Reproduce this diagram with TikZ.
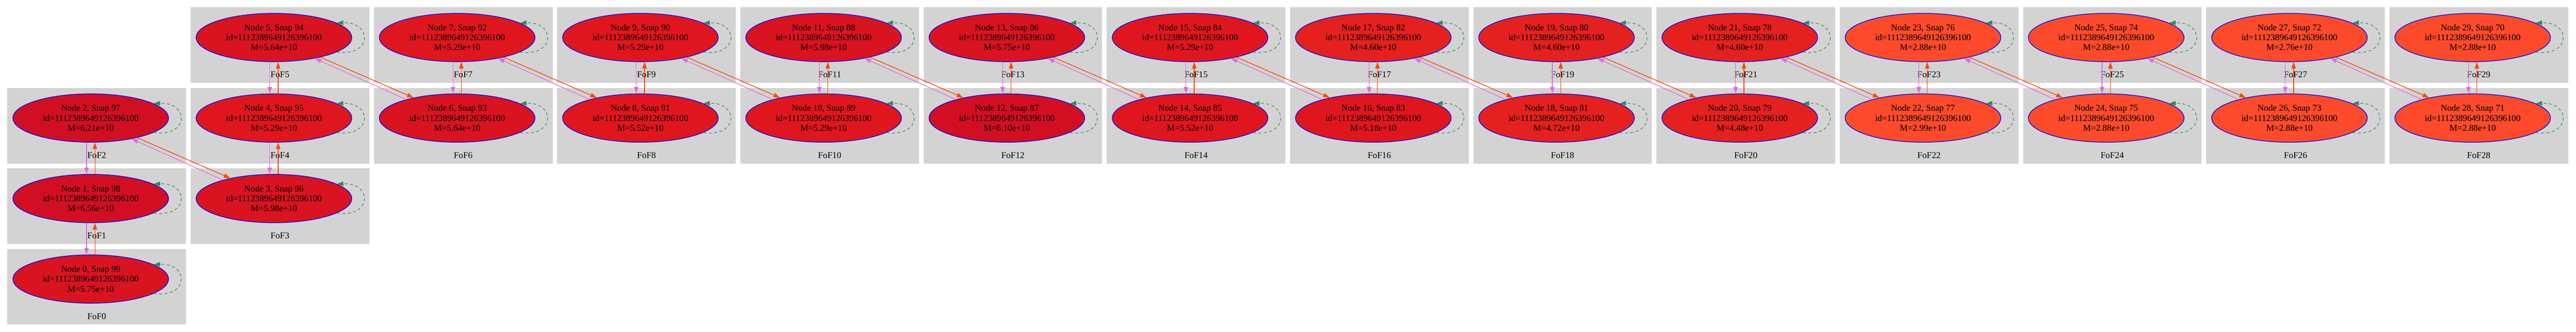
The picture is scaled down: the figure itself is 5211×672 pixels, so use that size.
\documentclass[tikz,border=0pt]{standalone}
\usepackage{fontspec}
\setmainfont{Liberation Serif}
\usetikzlibrary{arrows.meta,shapes.geometric}
\definecolor{fofgray}{HTML}{D3D3D3}
\definecolor{haloblue}{HTML}{0000FF}
\definecolor{progviolet}{HTML}{DA70D6}
\definecolor{descorange}{HTML}{FF4500}
\definecolor{loopgreen}{HTML}{2E8B57}
\definecolor{massA}{HTML}{D20F22}
\definecolor{massB}{HTML}{D91320}
\definecolor{massC}{HTML}{E0161E}
\definecolor{massD}{HTML}{E4211E}
\definecolor{massE}{HTML}{FC4A2B}

\begin{document}
\begin{tikzpicture}[x=1pt,y=1pt,
  fof/.style={rectangle,fill=fofgray,inner sep=0pt,minimum width=361.5pt,minimum height=153pt},
  fofname/.style={anchor=base,yshift=11pt,font=\fontsize{18}{20}\selectfont},
  halo/.style={ellipse,draw=haloblue,line width=1.3pt,inner sep=0pt,minimum width=315pt,minimum height=98pt,align=center,font=\fontsize{18}{20}\selectfont},
  prog/.style={draw=progviolet,line width=1.3pt,-{Triangle[length=13pt,width=9pt]}},
  desc/.style={draw=descorange,line width=1.4pt,-{Triangle[length=13pt,width=9pt]}},
  selfloop/.style={draw=loopgreen,line width=1.2pt,dash pattern=on 6pt off 5pt,-{Triangle[length=13pt,width=9pt]}}]
  \useasboundingbox (0,0) rectangle (5211,672);
  % FoF groups
  \node[fof,label={[fofname]south:FoF0}] (F0) at (195.75,91.5) {};
  \node[fof,label={[fofname]south:FoF1}] (F1) at (195.75,254.5) {};
  \node[fof,label={[fofname]south:FoF2}] (F2) at (195.75,417.5) {};
  \node[fof,label={[fofname]south:FoF3}] (F3) at (566.40,254.5) {};
  \node[fof,label={[fofname]south:FoF4}] (F4) at (566.40,417.5) {};
  \node[fof,label={[fofname]south:FoF5}] (F5) at (566.40,580.5) {};
  \node[fof,label={[fofname]south:FoF6}] (F6) at (937.05,417.5) {};
  \node[fof,label={[fofname]south:FoF7}] (F7) at (937.05,580.5) {};
  \node[fof,label={[fofname]south:FoF8}] (F8) at (1307.70,417.5) {};
  \node[fof,label={[fofname]south:FoF9}] (F9) at (1307.70,580.5) {};
  \node[fof,label={[fofname]south:FoF10}] (F10) at (1678.35,417.5) {};
  \node[fof,label={[fofname]south:FoF11}] (F11) at (1678.35,580.5) {};
  \node[fof,label={[fofname]south:FoF12}] (F12) at (2049.00,417.5) {};
  \node[fof,label={[fofname]south:FoF13}] (F13) at (2049.00,580.5) {};
  \node[fof,label={[fofname]south:FoF14}] (F14) at (2419.65,417.5) {};
  \node[fof,label={[fofname]south:FoF15}] (F15) at (2419.65,580.5) {};
  \node[fof,label={[fofname]south:FoF16}] (F16) at (2790.30,417.5) {};
  \node[fof,label={[fofname]south:FoF17}] (F17) at (2790.30,580.5) {};
  \node[fof,label={[fofname]south:FoF18}] (F18) at (3160.95,417.5) {};
  \node[fof,label={[fofname]south:FoF19}] (F19) at (3160.95,580.5) {};
  \node[fof,label={[fofname]south:FoF20}] (F20) at (3531.60,417.5) {};
  \node[fof,label={[fofname]south:FoF21}] (F21) at (3531.60,580.5) {};
  \node[fof,label={[fofname]south:FoF22}] (F22) at (3902.25,417.5) {};
  \node[fof,label={[fofname]south:FoF23}] (F23) at (3902.25,580.5) {};
  \node[fof,label={[fofname]south:FoF24}] (F24) at (4272.90,417.5) {};
  \node[fof,label={[fofname]south:FoF25}] (F25) at (4272.90,580.5) {};
  \node[fof,label={[fofname]south:FoF26}] (F26) at (4643.55,417.5) {};
  \node[fof,label={[fofname]south:FoF27}] (F27) at (4643.55,580.5) {};
  \node[fof,label={[fofname]south:FoF28}] (F28) at (5014.20,417.5) {};
  \node[fof,label={[fofname]south:FoF29}] (F29) at (5014.20,580.5) {};
  % halos
  \node[halo,fill=massB] (n0) at (183.50,107) {Node 0, Snap 99\\id=1112389649126396100\\M=5.75e+10};
  \node[halo,fill=massA] (n1) at (183.50,270) {Node 1, Snap 98\\id=1112389649126396100\\M=6.56e+10};
  \node[halo,fill=massA] (n2) at (183.50,433) {Node 2, Snap 97\\id=1112389649126396100\\M=6.21e+10};
  \node[halo,fill=massB] (n3) at (554.15,270) {Node 3, Snap 96\\id=1112389649126396100\\M=5.98e+10};
  \node[halo,fill=massC] (n4) at (554.15,433) {Node 4, Snap 95\\id=1112389649126396100\\M=5.29e+10};
  \node[halo,fill=massB] (n5) at (554.15,596) {Node 5, Snap 94\\id=1112389649126396100\\M=5.64e+10};
  \node[halo,fill=massB] (n6) at (924.80,433) {Node 6, Snap 93\\id=1112389649126396100\\M=5.64e+10};
  \node[halo,fill=massC] (n7) at (924.80,596) {Node 7, Snap 92\\id=1112389649126396100\\M=5.29e+10};
  \node[halo,fill=massC] (n8) at (1295.45,433) {Node 8, Snap 91\\id=1112389649126396100\\M=5.52e+10};
  \node[halo,fill=massC] (n9) at (1295.45,596) {Node 9, Snap 90\\id=1112389649126396100\\M=5.29e+10};
  \node[halo,fill=massC] (n10) at (1666.10,433) {Node 10, Snap 89\\id=1112389649126396100\\M=5.29e+10};
  \node[halo,fill=massB] (n11) at (1666.10,596) {Node 11, Snap 88\\id=1112389649126396100\\M=5.98e+10};
  \node[halo,fill=massA] (n12) at (2036.75,433) {Node 12, Snap 87\\id=1112389649126396100\\M=6.10e+10};
  \node[halo,fill=massB] (n13) at (2036.75,596) {Node 13, Snap 86\\id=1112389649126396100\\M=5.75e+10};
  \node[halo,fill=massC] (n14) at (2407.40,433) {Node 14, Snap 85\\id=1112389649126396100\\M=5.52e+10};
  \node[halo,fill=massC] (n15) at (2407.40,596) {Node 15, Snap 84\\id=1112389649126396100\\M=5.29e+10};
  \node[halo,fill=massC] (n16) at (2778.05,433) {Node 16, Snap 83\\id=1112389649126396100\\M=5.18e+10};
  \node[halo,fill=massD] (n17) at (2778.05,596) {Node 17, Snap 82\\id=1112389649126396100\\M=4.60e+10};
  \node[halo,fill=massD] (n18) at (3148.70,433) {Node 18, Snap 81\\id=1112389649126396100\\M=4.72e+10};
  \node[halo,fill=massD] (n19) at (3148.70,596) {Node 19, Snap 80\\id=1112389649126396100\\M=4.60e+10};
  \node[halo,fill=massD] (n20) at (3519.35,433) {Node 20, Snap 79\\id=1112389649126396100\\M=4.48e+10};
  \node[halo,fill=massD] (n21) at (3519.35,596) {Node 21, Snap 78\\id=1112389649126396100\\M=4.60e+10};
  \node[halo,fill=massE] (n22) at (3890.00,433) {Node 22, Snap 77\\id=1112389649126396100\\M=2.99e+10};
  \node[halo,fill=massE] (n23) at (3890.00,596) {Node 23, Snap 76\\id=1112389649126396100\\M=2.88e+10};
  \node[halo,fill=massE] (n24) at (4260.65,433) {Node 24, Snap 75\\id=1112389649126396100\\M=2.88e+10};
  \node[halo,fill=massE] (n25) at (4260.65,596) {Node 25, Snap 74\\id=1112389649126396100\\M=2.88e+10};
  \node[halo,fill=massE] (n26) at (4631.30,433) {Node 26, Snap 73\\id=1112389649126396100\\M=2.88e+10};
  \node[halo,fill=massE] (n27) at (4631.30,596) {Node 27, Snap 72\\id=1112389649126396100\\M=2.76e+10};
  \node[halo,fill=massE] (n28) at (5001.95,433) {Node 28, Snap 71\\id=1112389649126396100\\M=2.88e+10};
  \node[halo,fill=massE] (n29) at (5001.95,596) {Node 29, Snap 70\\id=1112389649126396100\\M=2.88e+10};
  % links inside a column
  \draw[prog] ([xshift=-8.5pt]n1.south) -- ([xshift=-8.5pt]n0.north);
  \draw[desc] ([xshift=8.5pt]n0.north) -- ([xshift=8.5pt]n1.south);
  \draw[prog] ([xshift=-8.5pt]n2.south) -- ([xshift=-8.5pt]n1.north);
  \draw[desc] ([xshift=8.5pt]n1.north) -- ([xshift=8.5pt]n2.south);
  \draw[prog] ([xshift=-8.5pt]n4.south) -- ([xshift=-8.5pt]n3.north);
  \draw[desc] ([xshift=8.5pt]n3.north) -- ([xshift=8.5pt]n4.south);
  \draw[prog] ([xshift=-8.5pt]n5.south) -- ([xshift=-8.5pt]n4.north);
  \draw[desc] ([xshift=8.5pt]n4.north) -- ([xshift=8.5pt]n5.south);
  \draw[prog] ([xshift=-8.5pt]n7.south) -- ([xshift=-8.5pt]n6.north);
  \draw[desc] ([xshift=8.5pt]n6.north) -- ([xshift=8.5pt]n7.south);
  \draw[prog] ([xshift=-8.5pt]n9.south) -- ([xshift=-8.5pt]n8.north);
  \draw[desc] ([xshift=8.5pt]n8.north) -- ([xshift=8.5pt]n9.south);
  \draw[prog] ([xshift=-8.5pt]n11.south) -- ([xshift=-8.5pt]n10.north);
  \draw[desc] ([xshift=8.5pt]n10.north) -- ([xshift=8.5pt]n11.south);
  \draw[prog] ([xshift=-8.5pt]n13.south) -- ([xshift=-8.5pt]n12.north);
  \draw[desc] ([xshift=8.5pt]n12.north) -- ([xshift=8.5pt]n13.south);
  \draw[prog] ([xshift=-8.5pt]n15.south) -- ([xshift=-8.5pt]n14.north);
  \draw[desc] ([xshift=8.5pt]n14.north) -- ([xshift=8.5pt]n15.south);
  \draw[prog] ([xshift=-8.5pt]n17.south) -- ([xshift=-8.5pt]n16.north);
  \draw[desc] ([xshift=8.5pt]n16.north) -- ([xshift=8.5pt]n17.south);
  \draw[prog] ([xshift=-8.5pt]n19.south) -- ([xshift=-8.5pt]n18.north);
  \draw[desc] ([xshift=8.5pt]n18.north) -- ([xshift=8.5pt]n19.south);
  \draw[prog] ([xshift=-8.5pt]n21.south) -- ([xshift=-8.5pt]n20.north);
  \draw[desc] ([xshift=8.5pt]n20.north) -- ([xshift=8.5pt]n21.south);
  \draw[prog] ([xshift=-8.5pt]n23.south) -- ([xshift=-8.5pt]n22.north);
  \draw[desc] ([xshift=8.5pt]n22.north) -- ([xshift=8.5pt]n23.south);
  \draw[prog] ([xshift=-8.5pt]n25.south) -- ([xshift=-8.5pt]n24.north);
  \draw[desc] ([xshift=8.5pt]n24.north) -- ([xshift=8.5pt]n25.south);
  \draw[prog] ([xshift=-8.5pt]n27.south) -- ([xshift=-8.5pt]n26.north);
  \draw[desc] ([xshift=8.5pt]n26.north) -- ([xshift=8.5pt]n27.south);
  \draw[prog] ([xshift=-8.5pt]n29.south) -- ([xshift=-8.5pt]n28.north);
  \draw[desc] ([xshift=8.5pt]n28.north) -- ([xshift=8.5pt]n29.south);
  % links to the next column
  \draw[desc] (n2.-23) -- (n3.155);
  \draw[prog] (n3.160) -- (n2.-27);
  \draw[desc] (n5.-23) -- (n6.155);
  \draw[prog] (n6.160) -- (n5.-27);
  \draw[desc] (n7.-23) -- (n8.155);
  \draw[prog] (n8.160) -- (n7.-27);
  \draw[desc] (n9.-23) -- (n10.155);
  \draw[prog] (n10.160) -- (n9.-27);
  \draw[desc] (n11.-23) -- (n12.155);
  \draw[prog] (n12.160) -- (n11.-27);
  \draw[desc] (n13.-23) -- (n14.155);
  \draw[prog] (n14.160) -- (n13.-27);
  \draw[desc] (n15.-23) -- (n16.155);
  \draw[prog] (n16.160) -- (n15.-27);
  \draw[desc] (n17.-23) -- (n18.155);
  \draw[prog] (n18.160) -- (n17.-27);
  \draw[desc] (n19.-23) -- (n20.155);
  \draw[prog] (n20.160) -- (n19.-27);
  \draw[desc] (n21.-23) -- (n22.155);
  \draw[prog] (n22.160) -- (n21.-27);
  \draw[desc] (n23.-23) -- (n24.155);
  \draw[prog] (n24.160) -- (n23.-27);
  \draw[desc] (n25.-23) -- (n26.155);
  \draw[prog] (n26.160) -- (n25.-27);
  \draw[desc] (n27.-23) -- (n28.155);
  \draw[prog] (n28.160) -- (n27.-27);
  % self links
  \draw[selfloop] (n0.-13) .. controls +(72,-10) and +(72,3) .. (n0.13);
  \draw[selfloop] (n1.-13) .. controls +(72,-10) and +(72,3) .. (n1.13);
  \draw[selfloop] (n2.-13) .. controls +(72,-10) and +(72,3) .. (n2.13);
  \draw[selfloop] (n3.-13) .. controls +(72,-10) and +(72,3) .. (n3.13);
  \draw[selfloop] (n4.-13) .. controls +(72,-10) and +(72,3) .. (n4.13);
  \draw[selfloop] (n5.-13) .. controls +(72,-10) and +(72,3) .. (n5.13);
  \draw[selfloop] (n6.-13) .. controls +(72,-10) and +(72,3) .. (n6.13);
  \draw[selfloop] (n7.-13) .. controls +(72,-10) and +(72,3) .. (n7.13);
  \draw[selfloop] (n8.-13) .. controls +(72,-10) and +(72,3) .. (n8.13);
  \draw[selfloop] (n9.-13) .. controls +(72,-10) and +(72,3) .. (n9.13);
  \draw[selfloop] (n10.-13) .. controls +(72,-10) and +(72,3) .. (n10.13);
  \draw[selfloop] (n11.-13) .. controls +(72,-10) and +(72,3) .. (n11.13);
  \draw[selfloop] (n12.-13) .. controls +(72,-10) and +(72,3) .. (n12.13);
  \draw[selfloop] (n13.-13) .. controls +(72,-10) and +(72,3) .. (n13.13);
  \draw[selfloop] (n14.-13) .. controls +(72,-10) and +(72,3) .. (n14.13);
  \draw[selfloop] (n15.-13) .. controls +(72,-10) and +(72,3) .. (n15.13);
  \draw[selfloop] (n16.-13) .. controls +(72,-10) and +(72,3) .. (n16.13);
  \draw[selfloop] (n17.-13) .. controls +(72,-10) and +(72,3) .. (n17.13);
  \draw[selfloop] (n18.-13) .. controls +(72,-10) and +(72,3) .. (n18.13);
  \draw[selfloop] (n19.-13) .. controls +(72,-10) and +(72,3) .. (n19.13);
  \draw[selfloop] (n20.-13) .. controls +(72,-10) and +(72,3) .. (n20.13);
  \draw[selfloop] (n21.-13) .. controls +(72,-10) and +(72,3) .. (n21.13);
  \draw[selfloop] (n22.-13) .. controls +(72,-10) and +(72,3) .. (n22.13);
  \draw[selfloop] (n23.-13) .. controls +(72,-10) and +(72,3) .. (n23.13);
  \draw[selfloop] (n24.-13) .. controls +(72,-10) and +(72,3) .. (n24.13);
  \draw[selfloop] (n25.-13) .. controls +(72,-10) and +(72,3) .. (n25.13);
  \draw[selfloop] (n26.-13) .. controls +(72,-10) and +(72,3) .. (n26.13);
  \draw[selfloop] (n27.-13) .. controls +(72,-10) and +(72,3) .. (n27.13);
  \draw[selfloop] (n28.-13) .. controls +(72,-10) and +(72,3) .. (n28.13);
  \draw[selfloop] (n29.-13) .. controls +(72,-10) and +(72,3) .. (n29.13);
\end{tikzpicture}
\end{document}
